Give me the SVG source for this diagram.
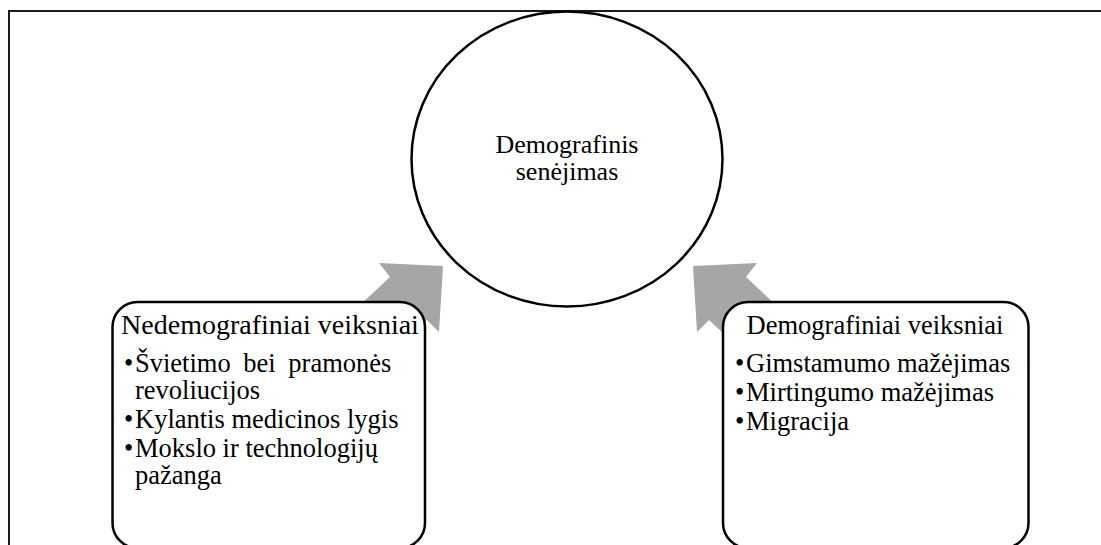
<svg xmlns="http://www.w3.org/2000/svg" width="1101" height="545" viewBox="0 0 1101 545">
  <style>
    .frame { fill: none; stroke: #1a1a1a; stroke-width: 2; }
    .node-shape { fill: #ffffff; stroke: #000000; stroke-width: 2.5; }
    .arrow { fill: #A6A6A6; stroke: none; }
    .label { font-family: "Liberation Serif", "Times New Roman", serif; font-size: 26.5px; fill: #000000; }
    .title { font-size: 26px; }
    .heading { font-size: 28px; }
    .center { text-anchor: middle; }
  </style>
  <rect width="1101" height="545" fill="#ffffff"/>

  <!-- page frame -->
  <path class="frame" d="M9,545 L9,11 L1101,11"/>

  <!-- block arrows pointing at the central ellipse -->
  <g id="connectors">
    <polygon class="arrow" points="443,266 439,332 427,320 383,361 346,318 390,277 379,263"/>
    <polygon class="arrow" points="693,266 697,332 709,320 753,361 790,318 746,277 757,263"/>
  </g>

  <!-- central node -->
  <g id="node-aging">
    <ellipse class="node-shape" cx="567" cy="159" rx="155.5" ry="147.5"/>
    <text class="label title center" x="567" y="153">Demografinis</text>
    <text class="label title center" x="567" y="180">senėjimas</text>
  </g>

  <!-- left factor box -->
  <g id="node-nondemographic">
    <rect class="node-shape" x="112.5" y="302" width="312.5" height="246" rx="25" ry="25"/>
    <text class="label heading center" x="270" y="334">Nedemografiniai veiksniai</text>
    <text class="label" x="124" y="372">•</text>
    <text class="label" x="135" y="372" word-spacing="6">Švietimo bei pramonės</text>
    <text class="label" x="135" y="399">revoliucijos</text>
    <text class="label" x="124" y="428">•</text>
    <text class="label" x="135" y="428">Kylantis medicinos lygis</text>
    <text class="label" x="124" y="457">•</text>
    <text class="label" x="135" y="457">Mokslo ir technologijų</text>
    <text class="label" x="135" y="484">pažanga</text>
  </g>

  <!-- right factor box -->
  <g id="node-demographic">
    <rect class="node-shape" x="723" y="302" width="305.5" height="246" rx="25" ry="25"/>
    <text class="label center" x="875" y="334">Demografiniai veiksniai</text>
    <text class="label" x="735" y="372">•</text>
    <text class="label" x="746" y="372">Gimstamumo mažėjimas</text>
    <text class="label" x="735" y="401">•</text>
    <text class="label" x="746" y="401">Mirtingumo mažėjimas</text>
    <text class="label" x="735" y="430">•</text>
    <text class="label" x="746" y="430">Migracija</text>
  </g>
</svg>
